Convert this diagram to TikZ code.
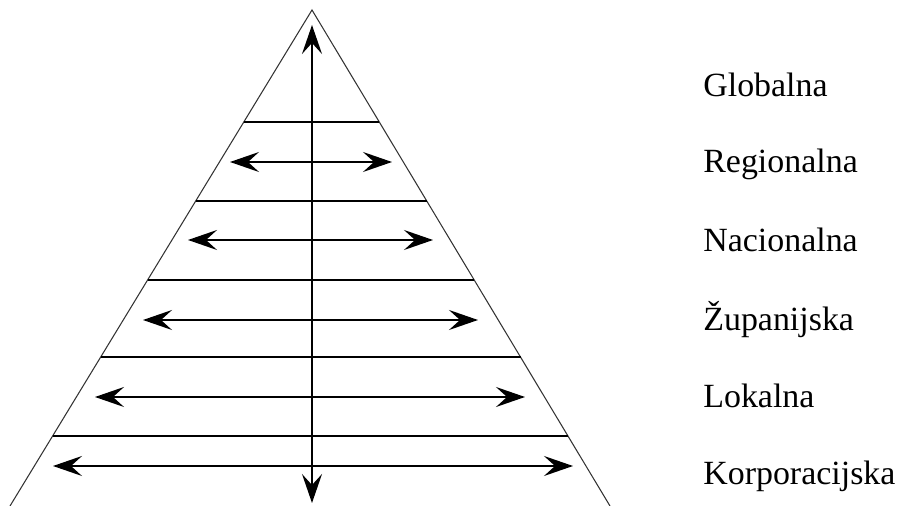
\documentclass[tikz,border=0pt]{standalone}
\usepackage{fontspec}
\setmainfont{Liberation Serif}
\usetikzlibrary{arrows.meta}

\begin{document}
\begin{tikzpicture}[x=0.02cm, y=-0.02cm,
  >={Stealth[length=5.8mm, width=4mm, inset=2.2mm]},
  level/.style={line width=0.8pt},
  flow/.style={<->, line width=0.9pt},
  lbl/.style={anchor=base west, inner sep=0pt, font=\fontsize{19.3}{22}\selectfont}]
  \useasboundingbox (0,0) rectangle (900,506);
  % pyramid outline
  \coordinate (apex) at (312,10);
  \coordinate (bl) at (10,506);
  \coordinate (br) at (610,506);
  \draw[line width=0.6pt, black!80] (bl) -- (apex) -- (br);
  % level boundaries
  \foreach \y in {122,201,280,357,436}
    \draw[level] ({312-0.609*(\y-10)},\y) -- ({312+0.601*(\y-10)},\y);
  % spread arrows, one per level
  \foreach \y/\xa/\xb in {162/230/392, 240/188/433, 320/143/478, 397/95/525, 466/53/573}
    \draw[flow] (\xa,\y) -- (\xb,\y);
  % vertical axis
  \draw[flow] (312,503) -- (312,25);
  % level names
  \foreach \y/\t [count=\i] in {97/Globalna, 173/Regionalna, 252/Nacionalna,
      331/Županijska, 408/Lokalna, 485/Korporacijska}
    \node[lbl] (lvl\i) at (703,\y) {\t};
\end{tikzpicture}
\end{document}
